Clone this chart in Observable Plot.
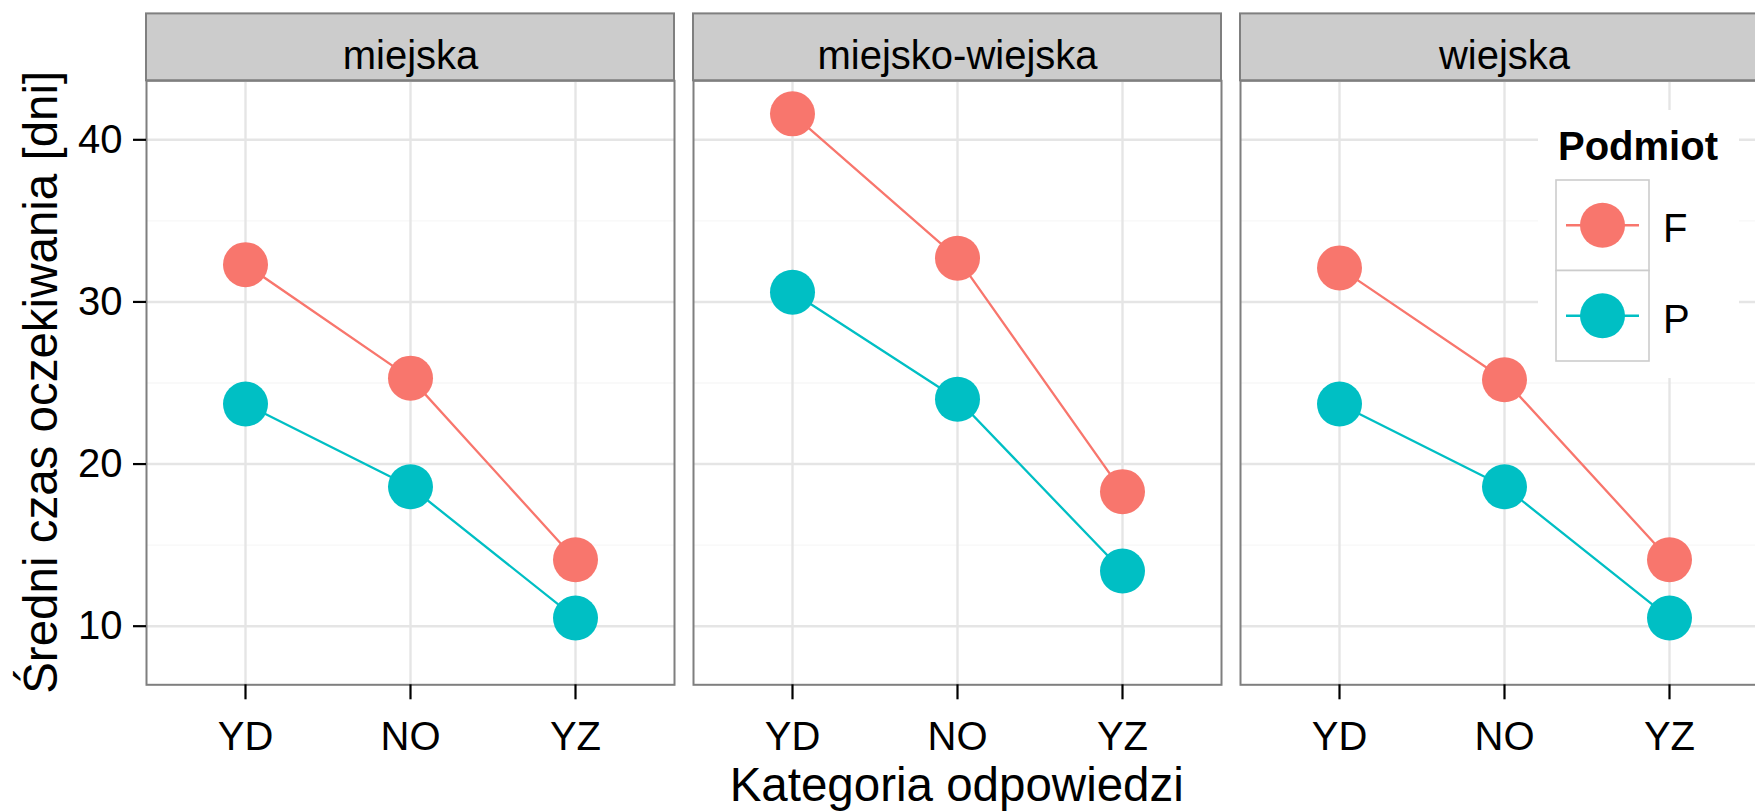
<!DOCTYPE html>
<html><head><meta charset="utf-8">
<script src="https://cdn.jsdelivr.net/npm/d3@7"></script>
<script src="https://cdn.jsdelivr.net/npm/@observablehq/plot@0.6"></script>
<style>
html,body{margin:0;padding:0;background:#fff;overflow:hidden;}
#chart{width:1755px;height:811px;overflow:hidden;position:relative;}
#chart svg{max-width:none !important;}
</style></head><body><div id="chart"></div>
<script>
const facets = ["miejska", "miejsko-wiejska", "wiejska"];
const categories = ["YD", "NO", "YZ"];
const series = ["F", "P"];
const colors = ["#F8766D", "#00BFC4"];
const fMiejska = [32.3, 25.3, 14.1];
const pMiejska = [23.7, 18.6, 10.5];
const fMiejskoWiejska = [41.6, 32.7, 18.3];
const pMiejskoWiejska = [30.6, 24.0, 13.4];
const fWiejska = [32.1, 25.2, 14.1];
const pWiejska = [23.7, 18.6, 10.5];
const yTicks = [10, 20, 30, 40];
const yMinorTicks = [15, 25, 35];
const xTitle = "Kategoria odpowiedzi";
const yTitle = "Średni czas oczekiwania [dni]";
const legendTitle = "Podmiot";

const seriesByFacet = {
  "miejska": {F: fMiejska, P: pMiejska},
  "miejsko-wiejska": {F: fMiejskoWiejska, P: pMiejskoWiejska},
  "wiejska": {F: fWiejska, P: pWiejska}
};
const data = [];
for (const f of facets) for (const s of series) categories.forEach((c, i) => data.push({facet: f, series: s, cat: c, value: seriesByFacet[f][s][i]}));

const FONT = "'Liberation Sans', Arial, Helvetica, sans-serif";
const W = 1775, H = 811;
const ML = 145, MR = 6.5, MT = 80.3, MB = 126.7;

const chart = Plot.plot({
  width: W, height: H,
  marginLeft: ML, marginRight: MR, marginTop: MT, marginBottom: MB,
  style: {fontFamily: FONT, background: "white", color: "black", overflow: "visible", maxWidth: "none"},
  fx: {domain: facets, paddingInner: 0.0356, paddingOuter: 0, label: null},
  x: {type: "point", domain: categories, padding: 0.6, label: null},
  y: {domain: [6.385, 43.64], label: null},
  color: {domain: series, range: colors},
  marks: [
    Plot.gridY(yMinorTicks, {stroke: "#f7f7f7", strokeOpacity: 1, strokeWidth: 1.4}),
    Plot.gridY(yTicks, {stroke: "#e5e5e5", strokeOpacity: 1, strokeWidth: 2.4}),
    Plot.gridX({stroke: "#e5e5e5", strokeOpacity: 1, strokeWidth: 2.4}),
    Plot.line(data, {fx: "facet", x: "cat", y: "value", z: "series", stroke: "series", strokeWidth: 2.3}),
    Plot.dot(data, {fx: "facet", x: "cat", y: "value", fill: "series", r: 22.5}),
    Plot.frame({stroke: "#7f7f7f", strokeWidth: 2}),
    Plot.axisY(yTicks, {tickSize: 13, tickPadding: 11, fontSize: 40, strokeWidth: 2.2, label: null}),
    Plot.axisX({tickSize: 15, tickPadding: 22, fontSize: 40, strokeWidth: 2.2, label: null}),
    Plot.axisFx({anchor: "top", tickSize: 0, tickPadding: 12, fontSize: 40, label: null})
  ]
});
chart.style.maxWidth = "none";

document.getElementById("chart").appendChild(chart);
const svg = d3.select(chart);

// facet strips (behind the fx labels)
let fxs = chart.scale("fx");
let fxApply, bw;
if (fxs && typeof fxs.apply === "function" && fxs.bandwidth) {
  fxApply = fxs.apply; bw = fxs.bandwidth;
} else {
  const s = d3.scaleBand().domain(facets).range([ML, W - MR]).paddingInner(0.0356).paddingOuter(0);
  fxApply = s; bw = s.bandwidth();
}
const stripG = svg.insert("g", "g").attr("aria-label", "strips");
facets.forEach(f => {
  stripG.append("rect")
    .attr("x", fxApply(f)).attr("y", 13.4)
    .attr("width", bw).attr("height", MT - 13.4)
    .attr("fill", "#cccccc").attr("stroke", "#7f7f7f").attr("stroke-width", 2);
});

// axis titles
svg.append("text")
  .attr("x", (ML + W - MR) / 2).attr("y", 801)
  .attr("text-anchor", "middle").attr("font-size", 47.5).attr("font-family", FONT).attr("fill", "black")
  .text(xTitle);
svg.append("text")
  .attr("transform", `translate(57,${(MT + H - MB) / 2}) rotate(-90)`)
  .attr("text-anchor", "middle").attr("font-size", 47.5).attr("font-family", FONT).attr("fill", "black")
  .text(yTitle);

// legend inside the third panel
const lg = svg.append("g").attr("aria-label", "legend").attr("font-family", FONT).attr("text-anchor", "start");
lg.append("rect").attr("x", 1538).attr("y", 110).attr("width", 201).attr("height", 268).attr("fill", "white");
lg.append("text").attr("x", 1558).attr("y", 160).attr("text-anchor", "start").attr("font-size", 40).attr("font-weight", "bold").attr("fill", "black").text(legendTitle);
series.forEach((s, i) => {
  const y0 = 180 + i * 90.5;
  const cy = y0 + 45.25;
  lg.append("rect").attr("x", 1556).attr("y", y0).attr("width", 93).attr("height", 90.5)
    .attr("fill", "white").attr("stroke", "#cccccc").attr("stroke-width", 1.6);
  lg.append("line").attr("x1", 1566).attr("x2", 1639).attr("y1", cy).attr("y2", cy)
    .attr("stroke", colors[i]).attr("stroke-width", 2.3);
  lg.append("circle").attr("cx", 1602.5).attr("cy", cy).attr("r", 22.5).attr("fill", colors[i]);
  lg.append("text").attr("x", 1663).attr("y", cy + 17).attr("text-anchor", "start").attr("font-size", 40).attr("fill", "black").text(s);
});
</script>
</body></html>
